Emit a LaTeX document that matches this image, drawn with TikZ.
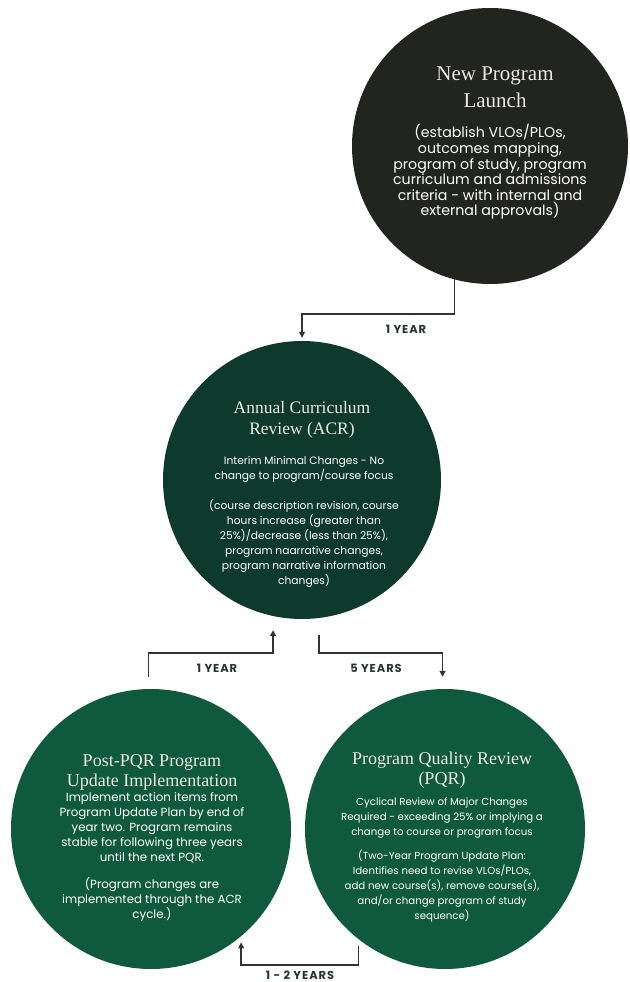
\documentclass[tikz,border=0pt]{standalone}
\usepackage{fontspec}
\setmainfont{Liberation Serif}
\newfontfamily\gothamish{Poppins}
\usetikzlibrary{arrows.meta}
\definecolor{charcoal}{HTML}{22251F}
\definecolor{pine}{HTML}{0E3A2D}
\definecolor{forest}{HTML}{0F5A3E}
\definecolor{cream}{HTML}{EDE9DF}
\definecolor{wire}{HTML}{333333}
\definecolor{slate}{HTML}{263530}

\begin{document}
\begin{tikzpicture}[x=1pt,y=-1pt,
  phase/.style={circle,inner sep=0pt,minimum size=#1},
  headline/.style 2 args={text=cream,align=center,inner sep=0pt,font=\fontsize{#1}{#2}\selectfont},
  blurb/.style 2 args={text=white,align=center,inner sep=0pt,font=\gothamish\fontsize{#1}{#2}\selectfont},
  flow/.style={wire,line width=1.3pt,-{Triangle[length=6pt,width=6pt]}},
  yearlabel/.style={text=slate,inner sep=0pt,font=\gothamish\bfseries\fontsize{11.5}{12}\selectfont\addfontfeature{LetterSpace=8}}]
  \useasboundingbox (0,0) rectangle (629,982);

  \node[phase=276pt,fill=charcoal] (launch) at (490,146) {};
  \node[headline={21}{27}] (launchhead) at (495,87) {New Program\\Launch};
  \node[blurb={14.2}{15.6}] (launchbody) at (490,172)
    {(establish VLOs/PLOs,\\outcomes mapping,\\program of study, program\\curriculum and admissions\\criteria - with internal and\\external approvals)};

  \node[phase=278pt,fill=pine] (acr) at (302,480) {};
  \node[headline={17.5}{21}] (acrhead) at (302,420) {Annual Curriculum\\Review (ACR)};
  \node[blurb={10.7}{15}] (acrbody) at (304,522)
    {Interim Minimal Changes - No\\change to program/course focus\\[15pt]
     (course description revision, course\\hours increase (greater than\\25\%)/decrease (less than 25\%),\\program naarrative changes,\\program narrative information\\changes)};

  \node[phase=280pt,fill=forest] (post) at (151,829) {};
  \node[headline={18}{20}] (posthead) at (152,772) {Post-PQR Program\\Update Implementation};
  \node[blurb={11.8}{15}] (postbody) at (152,857)
    {Implement action items from\\Program Update Plan by end of\\year two. Program remains\\stable for following three years\\until the next PQR.\\[12pt]
     (Program changes are\\implemented through the ACR\\cycle.)};

  \node[phase=280pt,fill=forest] (pqr) at (445,829) {};
  \node[headline={18}{20}] (pqrhead) at (442,770) {Program Quality Review\\(PQR)};
  \node[blurb={10.2}{15}] (pqrbody) at (442,860)
    {Cyclical Review of Major Changes\\Required - exceeding 25\% or implying a\\change to course or program focus\\[9pt]
     (Two-Year Program Update Plan:\\Identifies need to revise VLOs/PLOs,\\add new course(s), remove course(s),\\and/or change program of study\\sequence)};

  % elbow levels
  \coordinate (top) at (0,314);
  \coordinate (mid) at (0,653);
  \coordinate (low) at (0,965);

  \draw[flow,shorten >=3pt] (launch.255) |- (top -| acr.north) -- (acr.north);
  \draw[flow,shorten <=12pt,shorten >=14pt] (post.91.6) |- (mid -| acr.258) -- (acr.258);
  \draw[flow,shorten <=17pt,shorten >=12pt] (acr.277.4) |- (mid -| pqr.91.2) -- (pqr.91.2);
  \draw[flow,shorten <=7pt,shorten >=6pt] (pqr.232.6) |- (low -| post.310) -- (post.310);

  \node[yearlabel] (launchgap) at (406,329) {1 YEAR};
  \node[yearlabel] (backgap) at (217,668) {1 YEAR};
  \node[yearlabel] (reviewgap) at (376,668) {5 YEARS};
  \node[yearlabel] (plangap) at (300,975) {1 - 2 YEARS};
\end{tikzpicture}
\end{document}
